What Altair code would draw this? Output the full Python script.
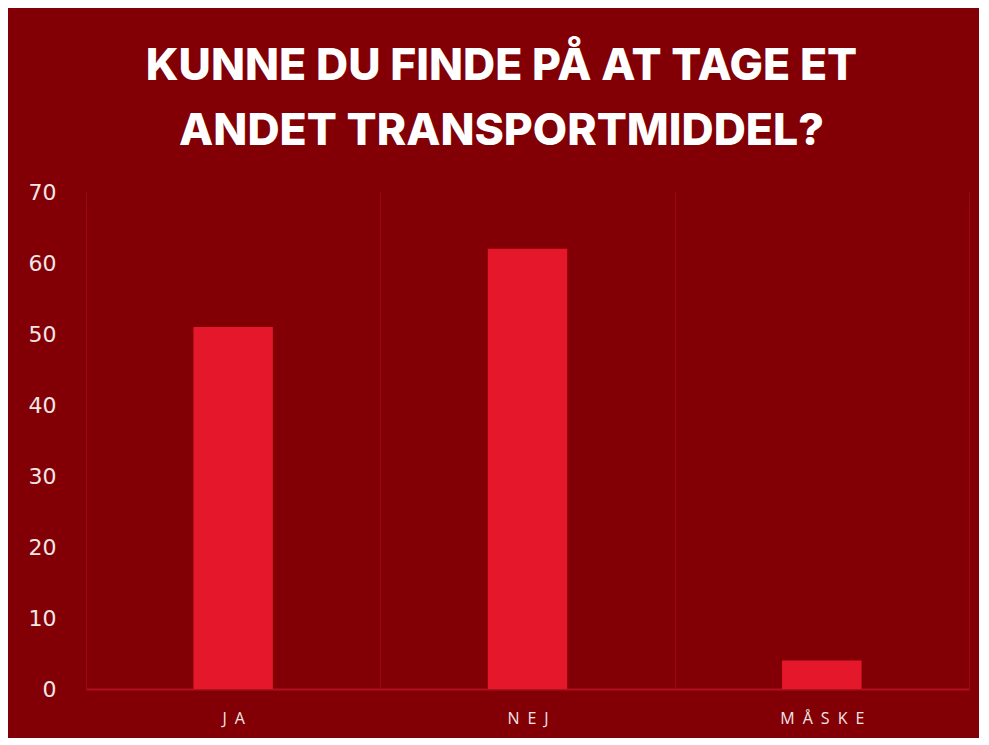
import altair as alt
import pandas as pd

categories = ["JA", "NEJ", "MÅSKE"]
values = [51, 62, 4]
y_ticks = [0, 10, 20, 30, 40, 50, 60, 70]
title_lines = ["KUNNE DU FINDE PÅ AT TAGE ET", "ANDET TRANSPORTMIDDEL?"]

df = pd.DataFrame({"svar": categories, "antal": values})

BG = "#820005"
LABEL = "#F3E6E6"

chart = (
    alt.Chart(df)
    .mark_bar(color="#E5172B", width=alt.RelativeBandSize(0.27))
    .encode(
        x=alt.X(
            "svar:N",
            sort=categories,
            scale=alt.Scale(paddingInner=0, paddingOuter=0),
            axis=alt.Axis(
                title=None,
                labelAngle=0,
                grid=True,
                tickBand="extent",
                gridColor="#9A0A15",
                gridWidth=1,
                domainColor="#B0101E",
                domainWidth=2,
                ticks=False,
                labelColor=LABEL,
                labelFont="Open Sans",
                labelFontSize=16,
                labelFontWeight=500,
                labelPadding=21,
                labelExpr="join(split(datum.label, ''), '\u2002')",
            ),
        ),
        y=alt.Y(
            "antal:Q",
            scale=alt.Scale(domain=[0, 70]),
            axis=alt.Axis(
                title=None,
                values=y_ticks,
                grid=False,
                domain=False,
                ticks=False,
                labelColor=LABEL,
                labelFont="DejaVu Sans",
                labelFontSize=22,
                labelPadding=30,
            ),
        ),
    )
    .properties(
        width=883,
        height=497,
        background=BG,
        padding={"left": 20, "top": 35, "right": 10, "bottom": 12},
        title=alt.TitleParams(
            text=title_lines,
            font="Inter",
            fontSize=44.5,
            fontWeight=800,
            color="#FFFFFF",
            lineHeight=65,
            anchor="middle",
            frame="bounds",
            offset=27,
            dx=3,
        ),
    )
    .configure_view(stroke=None)
)

chart.save("out.html", embed_options={"renderer": "svg", "actions": False})
